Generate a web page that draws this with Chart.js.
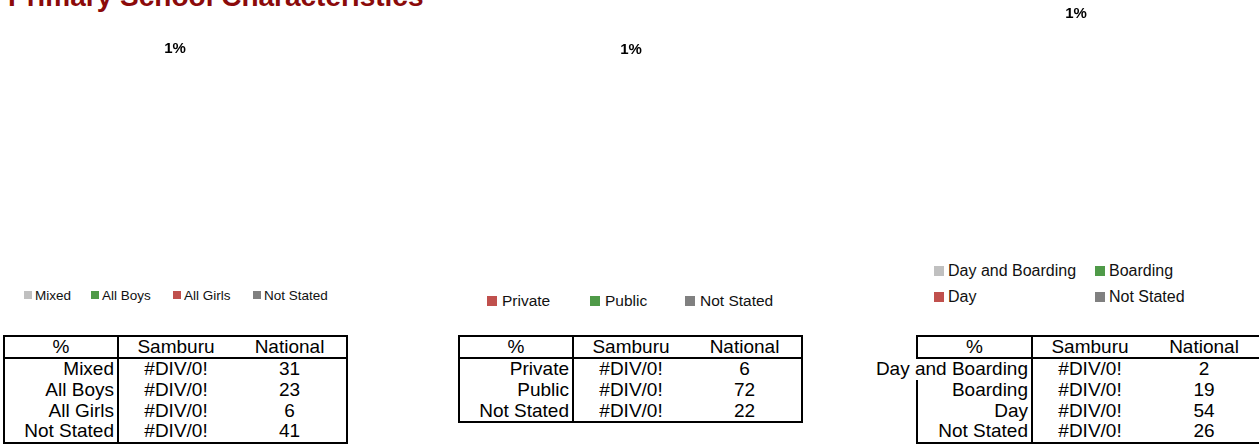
<!DOCTYPE html>
<html>
<head>
<meta charset="utf-8">
<script src="https://cdn.jsdelivr.net/npm/chart.js@4.4.0/dist/chart.umd.min.js"></script>
<style>
  html, body { margin: 0; padding: 0; background: #fff; }
  body { width: 1259px; height: 445px; overflow: hidden; position: relative; font-family: "Liberation Sans", Arial, sans-serif; }
  .title { position: absolute; left: 8px; top: -17px; font-size: 28px; line-height: 28px; font-weight: bold; color: #8b0a0a; white-space: nowrap; }
  canvas { position: absolute; }
  .legend { position: absolute; display: flex; flex-wrap: wrap; color: #111; }
  .legend .item { display: flex; align-items: center; white-space: nowrap; }
  .legend .box { flex: none; display: inline-block; }
  .tbl { position: absolute; top: 335px; border: 2px solid #000; font-size: 19px; color: #000; }
  .row { display: flex; height: 20.75px; line-height: 20.75px; }
  .row.head { height: 20px; line-height: 20px; border-bottom: 2px solid #000; }
  .c1 { position: relative; border-right: 2px solid #000; flex: none; }
  .c1 span { position: absolute; right: 3px; top: 0; background: #fff; white-space: nowrap; }
  .head .c1 { text-align: center; }
  .c2, .c3 { text-align: center; flex: none; white-space: nowrap; }
</style>
</head>
<body>
<div class="title">Primary School Characteristics</div>

<canvas id="typeChart" width="350" height="240" style="left:0px;top:35px"></canvas>
<canvas id="ownerChart" width="350" height="240" style="left:456px;top:36px"></canvas>
<canvas id="boardChart" width="352" height="240" style="left:900px;top:0px"></canvas>

<div class="legend" id="typeLegend" style="left:24px;top:287px;font-size:13.5px"></div>
<div class="legend" id="ownerLegend" style="left:487px;top:292px;font-size:15.5px"></div>
<div class="legend" id="boardLegend" style="left:934px;top:258px;font-size:16px"></div>

<div class="tbl" id="typeTable" style="left:3px"></div>
<div class="tbl" id="ownerTable" style="left:458px"></div>
<div class="tbl" id="boardTable" style="left:916px"></div>

<script>
// county values are 0/0 in the source sheet, shown as #DIV/0!
const DIV0 = NaN;

const typeCats = ['Mixed', 'All Boys', 'All Girls', 'Not Stated'];
const typeSamburu = [DIV0, DIV0, DIV0, DIV0];
const typeNational = [31, 23, 6, 41];

const ownerCats = ['Private', 'Public', 'Not Stated'];
const ownerSamburu = [DIV0, DIV0, DIV0];
const ownerNational = [6, 72, 22];

const boardCats = ['Day and Boarding', 'Boarding', 'Day', 'Not Stated'];
const boardSamburu = [DIV0, DIV0, DIV0, DIV0];
const boardNational = [2, 19, 54, 26];

const pieLabels = ['1%', '1%', '1%'];

const grey = '#c0c0c0', green = '#4f9a48', red = '#c0504d', dark = '#808080';

// html legend laid out in fixed columns, like the excel legend
const htmlLegend = {
    id: 'htmlLegend',
    afterUpdate(chart, args, opts) {
        const el = document.getElementById(opts.containerID);
        el.innerHTML = '';
        el.style.width = opts.colWidths.reduce((a, b) => a + b, 0) + 'px';
        const items = chart.options.plugins.legend.labels.generateLabels(chart);
        items.forEach((it, i) => {
            const d = document.createElement('div');
            d.className = 'item';
            d.style.width = opts.colWidths[i % opts.colWidths.length] + 'px';
            d.style.height = opts.rowHeight + 'px';
            const b = document.createElement('span');
            b.className = 'box';
            b.style.width = opts.boxSize + 'px';
            b.style.height = opts.boxSize + 'px';
            b.style.background = it.fillStyle;
            b.style.marginRight = opts.gap + 'px';
            const t = document.createElement('span');
            t.textContent = it.text;
            d.append(b, t);
            el.appendChild(d);
        });
    }
};

// the lone data label excel leaves on an empty pie
const pieLabel = {
    id: 'pieLabel',
    afterDraw(chart, args, opts) {
        const arc = chart.getDatasetMeta(0).data[0];
        const area = chart.chartArea;
        const x = arc && isFinite(arc.x) ? arc.x : (area.left + area.right) / 2;
        const ctx = chart.ctx;
        ctx.save();
        ctx.font = 'bold 15px "Liberation Sans", Arial, sans-serif';
        ctx.fillStyle = '#000';
        ctx.textAlign = 'center';
        ctx.textBaseline = 'middle';
        ctx.fillText(opts.text, x, area.top + opts.offset);
        ctx.restore();
    }
};

function makePie(id, cats, values, colors, label, legendOpts) {
    return new Chart(document.getElementById(id), {
        type: 'pie',
        data: {
            labels: cats,
            datasets: [{
                data: values,
                backgroundColor: colors,
                borderColor: '#fff',
                borderWidth: 1
            }]
        },
        options: {
            responsive: false,
            animation: false,
            plugins: {
                legend: { display: false },
                tooltip: { enabled: false },
                htmlLegend: legendOpts,
                pieLabel: { text: label, offset: 14 }
            }
        },
        plugins: [htmlLegend, pieLabel]
    });
}

function makeTable(id, cats, sam, nat, widths) {
    const el = document.getElementById(id);
    const fmt = v => isFinite(v) ? String(v) : '#DIV/0!';
    const row = (a, b, c, head) => {
        const r = document.createElement('div');
        r.className = head ? 'row head' : 'row';
        r.innerHTML = '<div class="c1" style="width:' + widths[0] + 'px">' +
            (head ? a : '<span>' + a + '</span>') + '</div>' +
            '<div class="c2" style="width:' + widths[1] + 'px">' + b + '</div>' +
            '<div class="c3" style="width:' + widths[2] + 'px">' + c + '</div>';
        el.appendChild(r);
    };
    row('%', 'Samburu', 'National', true);
    cats.forEach((c, i) => row(c, fmt(sam[i]), fmt(nat[i]), false));
}

makePie('typeChart', typeCats, typeSamburu, [grey, green, red, dark], pieLabels[0],
    { containerID: 'typeLegend', colWidths: [67, 82, 80, 100], rowHeight: 16, boxSize: 8, gap: 3 });
makePie('ownerChart', ownerCats, ownerSamburu, [red, green, dark], pieLabels[1],
    { containerID: 'ownerLegend', colWidths: [103, 95, 110], rowHeight: 18, boxSize: 10, gap: 5 });
makePie('boardChart', boardCats, boardSamburu, [grey, green, red, dark], pieLabels[2],
    { containerID: 'boardLegend', colWidths: [161, 130], rowHeight: 26, boxSize: 10, gap: 4 });

makeTable('typeTable', typeCats, typeSamburu, typeNational, [112, 114, 113]);
makeTable('ownerTable', ownerCats, ownerSamburu, ownerNational, [112, 114, 113]);
makeTable('boardTable', boardCats, boardSamburu, boardNational, [113, 114, 114]);
</script>
</body>
</html>
